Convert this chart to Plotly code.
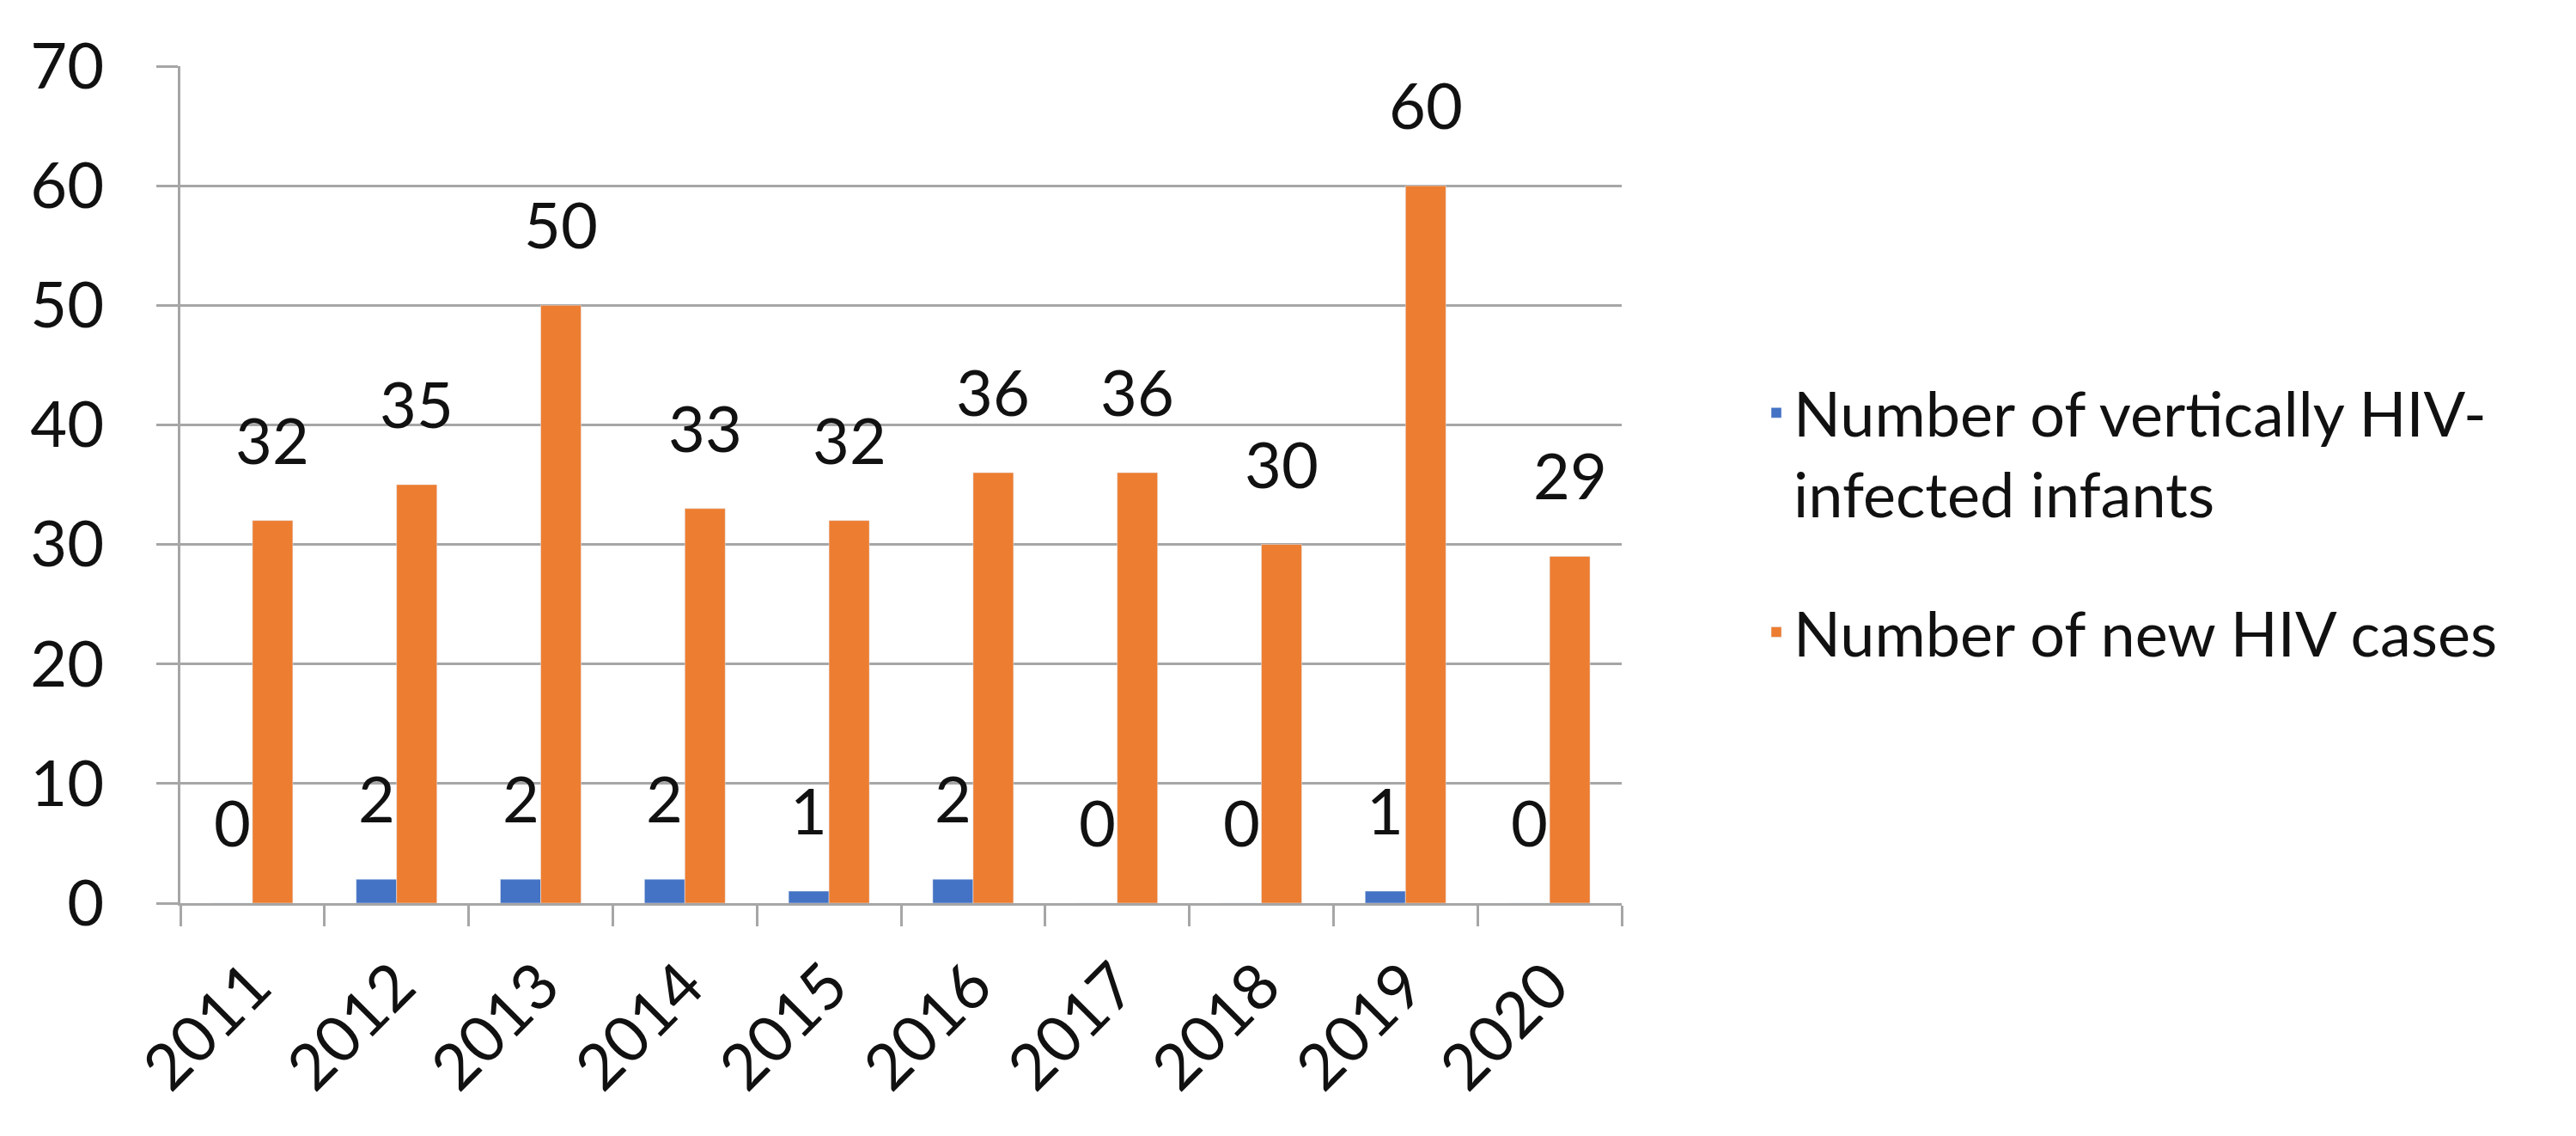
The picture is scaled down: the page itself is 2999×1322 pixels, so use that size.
import plotly.graph_objects as go

years = ["2011", "2012", "2013", "2014", "2015", "2016", "2017", "2018", "2019", "2020"]
infants = [0, 2, 2, 2, 1, 2, 0, 0, 1, 0]
new_cases = [32, 35, 50, 33, 32, 36, 36, 30, 60, 29]
series_names = ["Number of vertically HIV-<br>infected infants", "Number of new HIV cases"]
y_ticks = [0, 10, 20, 30, 40, 50, 60, 70]

BLUE = "#4472C4"
ORANGE = "#ED7D31"
GRID = "#A6A6A6"
TXT = "#111111"
FONT = "Lato"

W, H = 2999, 1322
ML, MR, MT, MB = 202, 2999 - 1880, 69, 1322 - 1043
BARGAP = 0.44

fig = go.Figure()
fig.add_trace(go.Bar(x=years, y=infants, name=series_names[0], marker_color=BLUE,
                     legendgroup="a"))
fig.add_trace(go.Bar(x=years, y=new_cases, name=series_names[1], marker_color=ORANGE,
                     legendgroup="b"))

# data labels above each bar
bw = (1 - BARGAP) / 2
for i, v in enumerate(infants):
    fig.add_annotation(x=i - bw / 2, y=v, xref="x", yref="y", text=str(v),
                       showarrow=False, yanchor="bottom", yshift=48,
                       font=dict(family=FONT, size=74, color=TXT))
for i, v in enumerate(new_cases):
    fig.add_annotation(x=i + bw / 2, y=v, xref="x", yref="y", text=str(v),
                       showarrow=False, yanchor="bottom", yshift=48,
                       font=dict(family=FONT, size=74, color=TXT))

fig.update_layout(
    width=W, height=H,
    margin=dict(l=ML, r=MR, t=MT, b=MB),
    paper_bgcolor="white", plot_bgcolor="white",
    barmode="group", bargap=BARGAP, bargroupgap=0,
    font=dict(family=FONT, size=74, color=TXT),
    showlegend=True,
    legend=dict(
        xref="container", yref="container",
        x=2040 / W, y=1 - 419 / H, xanchor="left", yanchor="top",
        font=dict(family=FONT, size=72, color=TXT),
        traceorder="grouped", tracegroupgap=65, valign="top",
        bgcolor="rgba(0,0,0,0)",
    ),
)
fig.update_xaxes(
    type="category", tickangle=-45,
    showline=True, linecolor=GRID, linewidth=3,
    ticks="outside", tickson="boundaries", ticklen=24, tickwidth=3, tickcolor=GRID,
    showgrid=False, tickfont=dict(family=FONT, size=74, color=TXT),
    ticklabelstandoff=20,
)
fig.update_yaxes(
    range=[0, 70], tickvals=y_ticks,
    showline=True, linecolor=GRID, linewidth=3,
    ticks="outside", ticklen=25, tickwidth=3, tickcolor=GRID,
    showgrid=True, gridcolor=GRID, gridwidth=3, zeroline=False,
    tickfont=dict(family=FONT, size=74, color=TXT),
    ticklabelstandoff=46,
)

fig.write_html("out.html")
